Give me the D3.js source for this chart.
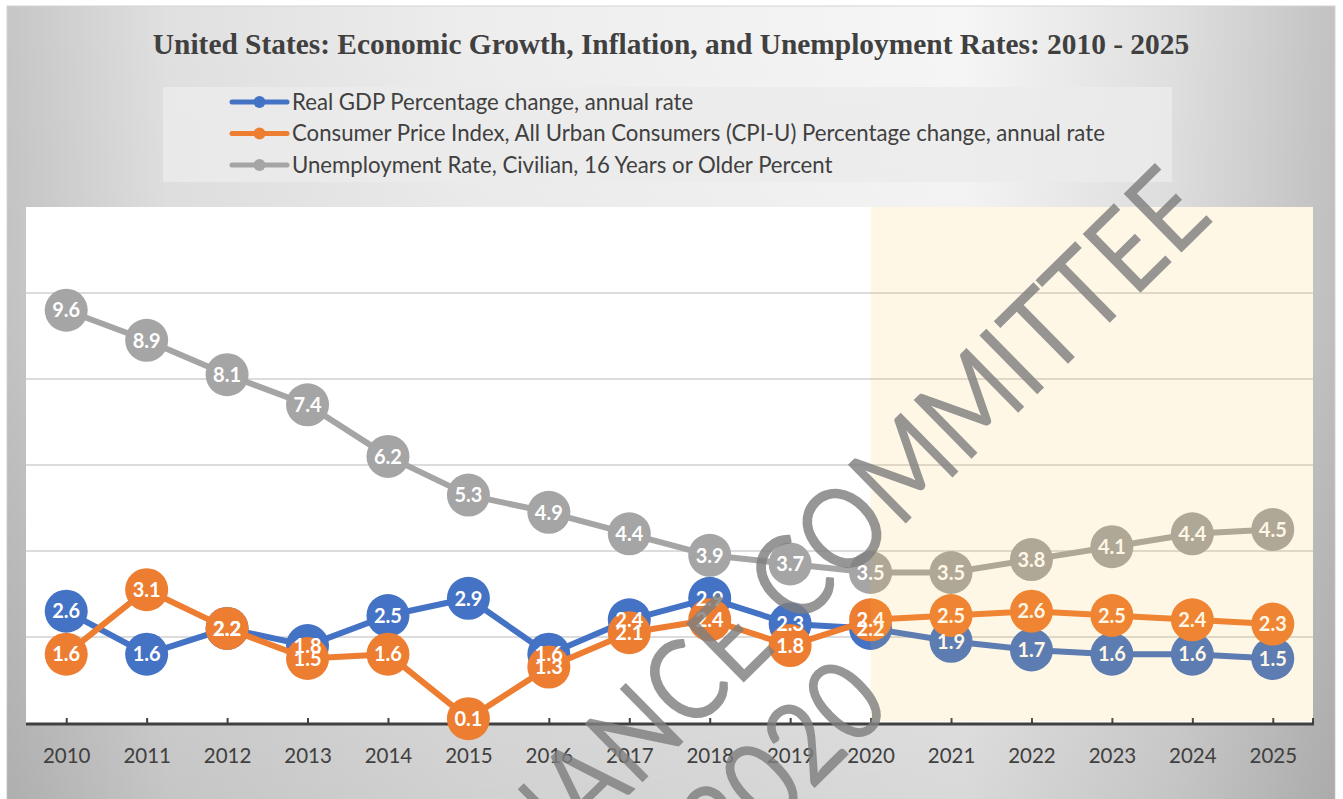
<!DOCTYPE html>
<html>
<head>
<meta charset="utf-8">
<script src="https://cdn.jsdelivr.net/npm/d3@7"></script>
<style>
  body { margin: 0; background: #ffffff; }
  svg { display: block; }
</style>
</head>
<body>
<div id="chart"></div>
<script>
// years on the x axis
const years = ["2010", "2011", "2012", "2013", "2014", "2015", "2016", "2017",
  "2018", "2019", "2020", "2021", "2022", "2023", "2024", "2025"];

// series values
const gdpValues = [2.6, 1.6, 2.2, 1.8, 2.5, 2.9, 1.6, 2.4, 2.9, 2.3, 2.2, 1.9, 1.7, 1.6, 1.6, 1.5];
const cpiValues = [1.6, 3.1, 2.2, 1.5, 1.6, 0.1, 1.3, 2.1, 2.4, 1.8, 2.4, 2.5, 2.6, 2.5, 2.4, 2.3];
const unempValues = [9.6, 8.9, 8.1, 7.4, 6.2, 5.3, 4.9, 4.4, 3.9, 3.7, 3.5, 3.5, 3.8, 4.1, 4.4, 4.5];

const seriesNames = [
  "Real GDP Percentage change, annual rate",
  "Consumer Price Index, All Urban Consumers (CPI-U) Percentage change, annual rate",
  "Unemployment Rate, Civilian, 16 Years or Older Percent"
];

// first year of the projection (shaded) part
const projectionStart = "2020";

const title = "United States: Economic Growth, Inflation, and Unemployment Rates: 2010 - 2025";
const watermarkLines = ["FINANCE COMMITTEE", "2020"];

const svgwidth = 1343;
const svgheight = 799;

const plot = { left: 26, right: 1313, top: 207, bottom: 723 };

const svg = d3.select("#chart")
  .append("svg")
  .attr("width", svgwidth)
  .attr("height", svgheight);

const defs = svg.append("defs");

// horizontal grey gradient of the chart frame
const bgGrad = defs.append("linearGradient")
  .attr("id", "bgGrad")
  .attr("x1", "0").attr("x2", "1").attr("y1", "0").attr("y2", "0");
[["0%", "#c6c6c6"], ["12%", "#e0e0e0"], ["35%", "#ededed"], ["72%", "#f6f6f6"],
 ["88%", "#dfdfdf"], ["100%", "#c2c2c2"]].forEach(s => {
  bgGrad.append("stop").attr("offset", s[0]).attr("stop-color", s[1]);
});

// darker towards the bottom
const shadeGrad = defs.append("linearGradient")
  .attr("id", "shadeGrad")
  .attr("x1", "0").attr("x2", "0").attr("y1", "0").attr("y2", "1");
shadeGrad.append("stop").attr("offset", "0%").attr("stop-color", "#000").attr("stop-opacity", 0);
shadeGrad.append("stop").attr("offset", "40%").attr("stop-color", "#000").attr("stop-opacity", 0.02);
shadeGrad.append("stop").attr("offset", "100%").attr("stop-color", "#000").attr("stop-opacity", 0.12);

svg.append("rect")
  .attr("x", 7).attr("y", 6)
  .attr("width", 1328).attr("height", 800)
  .attr("fill", "url(#bgGrad)")
  .attr("stroke", "#d4d4d4");

svg.append("rect")
  .attr("x", 7).attr("y", 6)
  .attr("width", 1328).attr("height", 800)
  .attr("fill", "url(#shadeGrad)");

// title
svg.append("text")
  .attr("x", 671)
  .attr("y", 54)
  .attr("text-anchor", "middle")
  .style("font-family", "'Liberation Serif', 'Times New Roman', serif")
  .style("font-weight", "bold")
  .style("font-size", "29.4px")
  .style("fill", "#404040")
  .text(title);

//scales
const xscale = d3.scalePoint()
  .domain(years)
  .range([plot.left, plot.right])
  .padding(0.5);

const yscale = d3.scaleLinear()
  .domain([0, 12])
  .range([plot.bottom, plot.top]);

// white plot area
svg.append("rect")
  .attr("x", plot.left)
  .attr("y", plot.top)
  .attr("width", plot.right - plot.left)
  .attr("height", plot.bottom - plot.top)
  .attr("fill", "#ffffff");

// gridlines (no y labels in the original)
svg.append("g")
  .selectAll("line")
  .data(yscale.ticks(6).filter(d => d > 0 && d < 12))
  .join("line")
  .attr("x1", plot.left)
  .attr("x2", plot.right)
  .attr("y1", d => yscale(d))
  .attr("y2", d => yscale(d))
  .attr("stroke", "#d0d0d0")
  .attr("stroke-width", 1.5);

// x axis: thick dark line with short ticks pointing up
const xaxis = d3.axisBottom(xscale).tickSizeInner(-6).tickSizeOuter(0).tickPadding(24);
const axisG = svg.append("g")
  .attr("transform", `translate(0,${plot.bottom + 1})`)
  .call(xaxis);
axisG.select(".domain")
  .attr("stroke", "#404040")
  .attr("stroke-width", 3)
  .attr("d", `M${plot.left},0H${plot.right + 1}`);
axisG.selectAll(".tick line")
  .attr("stroke", "#404040")
  .attr("stroke-width", 2);
axisG.selectAll(".tick text")
  .style("font-family", "Lato, 'Open Sans', sans-serif")
  .style("font-size", "20.5px")
  .style("fill", "#404040");
// tick at the right end of the axis
axisG.append("line")
  .attr("x1", plot.right).attr("x2", plot.right)
  .attr("y1", 0).attr("y2", -6)
  .attr("stroke", "#404040")
  .attr("stroke-width", 2);

const series = [
  { name: seriesNames[2], values: unempValues, color: "#a5a5a5" },
  { name: seriesNames[0], values: gdpValues, color: "#4472c4" },
  { name: seriesNames[1], values: cpiValues, color: "#ed7d31" }
];

const line = d3.line()
  .x((d, i) => xscale(years[i]))
  .y(d => yscale(d));

// lines and markers, drawn series by series (grey, blue, orange)
series.forEach(s => {
  const g = svg.append("g");
  g.append("path")
    .datum(s.values)
    .attr("fill", "none")
    .attr("stroke", s.color)
    .attr("stroke-width", 6)
    .attr("stroke-linejoin", "round")
    .attr("d", line);
  g.selectAll("circle")
    .data(s.values)
    .join("circle")
    .attr("cx", (d, i) => xscale(years[i]))
    .attr("cy", d => yscale(d))
    .attr("r", 21.5)
    .attr("fill", s.color);
});

// data labels sit on top of every marker
series.forEach(s => {
  svg.append("g")
    .selectAll("text")
    .data(s.values)
    .join("text")
    .attr("x", (d, i) => xscale(years[i]))
    .attr("y", d => yscale(d))
    .attr("dy", "0.36em")
    .attr("text-anchor", "middle")
    .style("font-family", "Lato, 'Open Sans', sans-serif")
    .style("font-weight", "bold")
    .style("font-size", "20px")
    .style("fill", "#ffffff")
    .text(d => d.toFixed(1));
});

// projection shading over the last years
svg.append("rect")
  .attr("x", xscale(projectionStart))
  .attr("y", plot.top)
  .attr("width", plot.right - xscale(projectionStart))
  .attr("height", plot.bottom - plot.top - 2)
  .attr("fill", "rgb(255,190,65)")
  .attr("fill-opacity", 0.13);

// legend
const legend = svg.append("g");
legend.append("rect")
  .attr("x", 163).attr("y", 87)
  .attr("width", 1009).attr("height", 95)
  .attr("fill", "#ebebeb")
  .attr("fill-opacity", 0.85);

const legendItems = [series[1], series[2], series[0]];
legendItems.forEach((s, i) => {
  const y = 102 + i * 31.5;
  legend.append("line")
    .attr("x1", 232).attr("x2", 287)
    .attr("y1", y).attr("y2", y)
    .attr("stroke", s.color)
    .attr("stroke-width", 5)
    .attr("stroke-linecap", "round");
  legend.append("circle")
    .attr("cx", 259.5).attr("cy", y)
    .attr("r", 6)
    .attr("fill", s.color);
  legend.append("text")
    .attr("x", 292)
    .attr("y", y)
    .attr("dy", "0.35em")
    .style("font-family", "Lato, 'Open Sans', sans-serif")
    .style("font-size", "22.2px")
    .style("fill", "#404040")
    .text(s.name);
});

// diagonal watermark
const wm = svg.append("g")
  .attr("transform", "translate(845,583) rotate(-44.5)")
  .style("font-family", "Lato, 'Open Sans', sans-serif")
  .style("font-weight", 400)
  .style("font-size", "115px")
  .style("fill", "#7f7f7f")
  .style("fill-opacity", 0.82);
wm.append("text")
  .attr("x", 0).attr("y", 0)
  .attr("text-anchor", "middle")
  .attr("textLength", 1040)
  .attr("lengthAdjust", "spacingAndGlyphs")
  .text(watermarkLines[0]);
wm.append("text")
  .attr("x", -170).attr("y", 125)
  .attr("text-anchor", "middle")
  .attr("textLength", 233)
  .attr("lengthAdjust", "spacingAndGlyphs")
  .text(watermarkLines[1]);
</script>
</body>
</html>
